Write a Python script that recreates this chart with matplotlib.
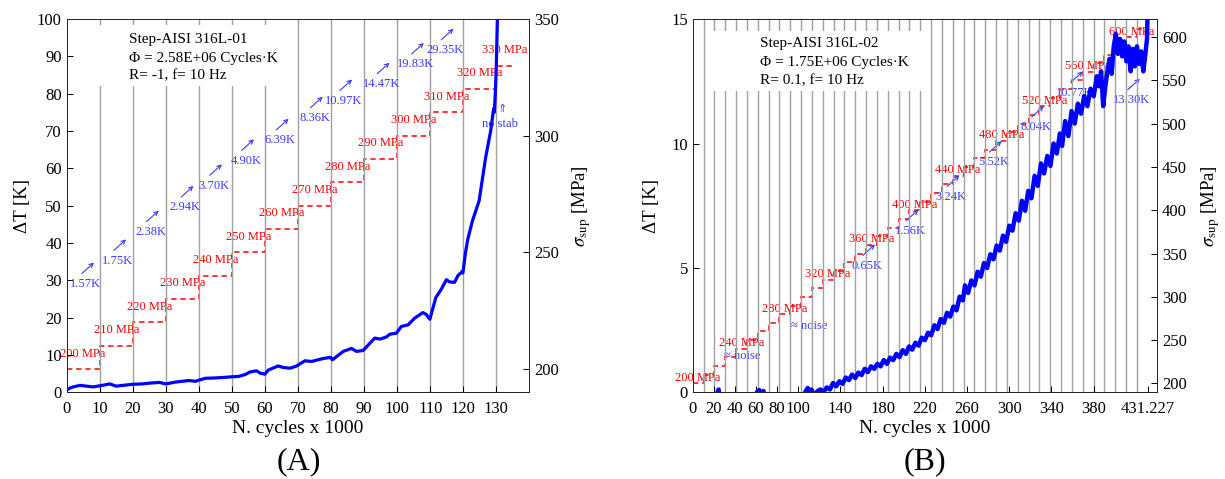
import numpy as np
import matplotlib
matplotlib.use("Agg")
import matplotlib.pyplot as plt
from matplotlib.patches import Rectangle
from matplotlib.transforms import offset_copy

plt.rcParams["font.family"] = ["Liberation Serif", "DejaVu Serif"]
plt.rcParams["mathtext.fontset"] = "stix"

#############################
# (A) Step-AISI 316L-01     #
#############################
a_cycles = [0, 1, 2, 4, 6, 8, 10, 12, 13, 15, 17, 20, 23, 25, 28, 30, 33, 35,
            37, 39, 40, 42, 45, 47, 50, 52, 54, 55.5, 57.5, 58.5, 60, 61, 64,
            65.5, 67.6, 69.6, 72.1, 74.1, 77.6, 79.9, 80.4, 83.7, 86.2, 87.7,
            89.7, 93.2, 94.9, 96.8, 97.8, 99.8, 101.3, 103.3, 105.3, 107.8,
            108.8, 109.9, 111.7, 113.4, 114.9, 115.9, 117.4, 118.4, 119.6,
            119.9, 120.7, 121.4, 122.8, 124.8, 126.8, 128.3, 129.2, 129.4,
            129.7, 130.0, 130.4]
a_dT = [0.6, 1.2, 1.5, 1.9, 1.7, 1.5, 1.8, 2.1, 2.3, 1.7, 1.9, 2.2, 2.3, 2.5,
        2.7, 2.3, 2.8, 3.0, 3.2, 3.0, 3.3, 3.8, 3.9, 4.0, 4.2, 4.3, 4.8, 5.5,
        5.8, 5.2, 4.9, 6.0, 7.1, 6.7, 6.5, 7.1, 8.5, 8.3, 9.1, 9.4, 8.75, 11.0,
        11.8, 11.0, 11.25, 14.55, 14.3, 14.9, 15.6, 15.9, 17.7, 18.1, 19.9,
        21.4, 20.9, 19.6, 25.4, 27.7, 30.2, 29.6, 29.5, 31.3, 32.3, 32.0, 37.5,
        41.1, 46.0, 51.3, 63.0, 70.0, 76.0, 75.0, 80.0, 87.0, 102.0]
a_edges = [0, 10, 20, 30, 40, 50, 60, 70, 80, 90, 100, 110, 120, 130, 135]
a_stress = [200, 210, 220, 230, 240, 250, 260, 270, 280, 290, 300, 310, 320, 330]
a_stab = ["1.57K", "1.75K", "2.38K", "2.94K", "3.70K", "4.90K", "6.39K",
          "8.36K", "10.97K", "14.47K", "19.83K", "29.35K"]
a_stab_pos = [(5.8, 29.1), (15.5, 35.3), (25.4, 43.0), (35.9, 49.6),
              (44.5, 55.4), (54.2, 62.1), (64.7, 67.6), (75.0, 73.5),
              (83.9, 78.1), (95.2, 82.6), (105.6, 87.9), (114.6, 91.7)]
a_info = ["Step-AISI 316L-01", "Φ = 2.58E+06 Cycles·K", "R= -1, f= 10 Hz"]

#############################
# (B) Step-AISI 316L-02     #
#############################
b_cycles = [0, 20, 23, 24.5, 26, 58, 61, 63, 65, 67, 69, 104, 107, 109, 111,
            112.5, 115, 118, 121, 124, 127, 130, 133, 136, 139, 142, 145, 148,
            151, 154, 157, 160, 163, 166, 169, 172, 175, 178, 181, 184, 187,
            190, 193, 196, 199, 202, 205, 208, 211, 214, 217, 220, 223, 226,
            229, 232, 235, 238, 241, 244, 247, 250, 253, 256, 258, 261, 264,
            267, 270, 273, 276, 279, 282, 285, 288, 291, 294, 297, 300, 303,
            306, 309, 312, 315, 318, 321, 324, 327, 330, 333, 336, 339, 342,
            345, 348, 350, 353, 356, 359, 362, 365, 368, 371, 374, 377, 380,
            383, 385, 387, 389, 391, 393, 395, 397, 399, 401, 403, 405, 407,
            409, 411, 413, 415, 417, 419, 421, 423, 425, 427, 429, 430.5,
            431.227]
b_dT = [-0.3, -0.3, -0.05, 0.12, -0.3, -0.3, 0.02, 0.1, -0.1, 0.06, -0.3,
        -0.3, 0.05, 0.18, 0.0, 0.12, -0.15, 0.05, 0.12, 0.02, 0.2, 0.12, 0.38,
        0.25, 0.45, 0.35, 0.6, 0.5, 0.72, 0.58, 0.8, 0.7, 0.95, 0.82, 1.05,
        0.95, 1.15, 1.05, 1.3, 1.15, 1.4, 1.3, 1.55, 1.42, 1.7, 1.55, 1.85,
        1.72, 2.0, 1.88, 2.2, 2.1, 2.4, 2.3, 2.7, 2.55, 2.95, 2.8, 3.2, 3.05,
        3.45, 3.3, 3.85, 3.7, 4.3, 4.0, 4.5, 4.3, 4.85, 4.65, 5.2, 5.0, 5.55,
        5.35, 5.9, 5.7, 6.3, 6.05, 6.7, 6.5, 7.2, 6.9, 7.7, 7.3, 8.1, 7.8, 8.7,
        8.3, 9.2, 8.8, 9.5, 9.1, 10.0, 9.6, 10.4, 9.9, 10.9, 10.3, 11.3, 10.8,
        11.6, 11.2, 11.9, 11.5, 12.2, 11.9, 12.7, 12.3, 12.9, 11.5, 12.3, 12.9,
        13.4, 12.8, 13.9, 14.4, 13.6, 14.2, 13.5, 14.1, 13.3, 13.9, 12.9, 13.8,
        13.1, 13.9, 13.2, 13.7, 12.9, 13.6, 14.2, 15.5]
b_edges = [0, 10.27, 20.53, 30.80, 41.07, 51.34, 61.60, 71.87, 82.14, 92.41,
           102.67, 112.94, 123.21, 133.47, 143.74, 154.01, 164.28, 174.54,
           184.81, 195.08, 205.35, 215.61, 225.88, 236.15, 246.42, 256.68,
           266.95, 277.22, 287.48, 297.75, 308.02, 318.29, 328.55, 338.82,
           349.09, 359.36, 369.62, 379.89, 390.16, 400.42, 410.69, 420.96,
           431.227]
b_stress = [200, 210, 220, 230, 240, 250, 260, 270, 280, 290, 300, 310, 320,
            330, 340, 350, 360, 370, 380, 390, 400, 410, 420, 430, 440, 450,
            460, 470, 480, 490, 500, 510, 520, 530, 540, 550, 560, 570, 580,
            590, 600, 610]
b_stab = ["≈ noise", "≈ noise", "0.65K", "1.56K", "3.24K", "5.52K", "8.04K",
          "10.77K", "13.30K"]
b_stab_pos = [(46.5, 231.7), (110, 266.7), (165, 336), (206, 376),
              (245, 415.7), (285, 455.4), (325, 495.9), (362, 535.9),
              (416, 527.4)]
b_has_arrow = [False, False, True, True, True, True, True, True, True]
b_xticks = [0, 20, 40, 60, 80, 100, 140, 180, 220, 260, 300, 340, 380, 431.227]
b_xticklabels = ["0", "20", "40", "60", "80", "100", "140", "180", "220",
                 "260", "300", "340", "380", "431.227"]
b_info = ["Step-AISI 316L-02", "Φ = 1.75E+06 Cycles·K", "R= 0.1, f= 10 Hz"]

RED = "#ff0000"
BLUE = "#0000ff"
LBLUE = "#3a3aff"
GRID = "#a0a0a0"

fig = plt.figure(figsize=(12.25, 4.79), dpi=100)


def arrow_for(ax, x, y):
    # small diagonal arrow sitting up-right of a label
    tail = offset_copy(ax.transData, fig=fig, x=-2.9, y=7.4, units="points")
    head = offset_copy(ax.transData, fig=fig, x=5.9, y=15.3, units="points")
    ax.annotate("", xy=(x, y), xycoords=head, xytext=(x, y), textcoords=tail,
                arrowprops=dict(arrowstyle="->", color=LBLUE, lw=0.8,
                                shrinkA=0, shrinkB=0, mutation_scale=7))


def setup(rect, xlim, ylim, ylim2, cycles, dT, edges, stress, lw):
    ax = fig.add_axes(rect)
    ax2 = ax.twinx()
    ax.set_zorder(ax2.get_zorder() + 1)
    ax.patch.set_visible(False)

    ax.set_xlim(*xlim)
    ax.set_ylim(*ylim)
    ax2.set_ylim(*ylim2)

    for xe in edges[1:-1]:
        ax.axvline(xe, color=GRID, lw=1.0, zorder=1)

    ax2.stairs(stress, edges, baseline=None, color=RED, lw=1.1,
               linestyle=(0, (3.5, 2.5)))
    ax.plot(cycles, dT, color=BLUE, lw=lw, zorder=3, solid_joinstyle="round")

    for a in (ax, ax2):
        a.tick_params(direction="in", length=4, labelsize=12, width=0.7)
        for s in a.spines.values():
            s.set_linewidth(0.7)
            s.set_color("#262626")
    ax.tick_params(axis="x", pad=6)
    ax.set_xlabel("N. cycles x 1000", fontsize=14, labelpad=2)
    ax.set_ylabel("ΔT [K]", fontsize=13.5)
    ax2.set_ylabel(r"$\sigma_{\mathrm{sup}}$ [MPa]", fontsize=13.5)
    return ax, ax2


def info_box(ax, box, x0, ys, lines):
    ax.add_patch(Rectangle(box[:2], box[2], box[3], facecolor="white",
                           edgecolor="none", zorder=2))
    for y, s in zip(ys, lines):
        ax.text(x0, y, s, fontsize=11, va="center", ha="left", zorder=4)


# ---------------- panel A ----------------
axA, axA2 = setup([0.0544, 0.1806, 0.3777, 0.7797], (0, 140), (0, 100),
                  (190, 350), a_cycles, a_dT, a_edges, a_stress, 2.3)
axA.set_xticks(np.arange(0, 131, 10))
axA.set_yticks(np.arange(0, 101, 10))
axA2.set_yticks([200, 250, 300, 350])
axA.yaxis.labelpad = 4
axA2.yaxis.labelpad = 8

for i, s in enumerate(a_stress):
    xm = (a_edges[i] + a_edges[i + 1]) / 2
    axA2.text(xm, s + 6.7, f"{s} MPa", color=RED, fontsize=9,
              ha="center", va="center")

for lab, (x, y) in zip(a_stab, a_stab_pos):
    axA.text(x, y, lab, color=LBLUE, fontsize=9, ha="center", va="center",
             zorder=4)
    arrow_for(axA, x, y)
axA.text(131.2, 71.9, "no stab", color=LBLUE, fontsize=9, ha="center",
         va="center", zorder=4)
axA.text(131.8, 76.0, "⇑", color=LBLUE, fontsize=8, ha="center",
         va="center", zorder=4, family=["DejaVu Sans"])

info_box(axA, (3, 82, 63, 16.4), 19, [94.4, 89.5, 84.8], a_info)

# ---------------- panel B ----------------
axB, axB2 = setup([0.5655, 0.1806, 0.3790, 0.7797], (0, 440), (0, 15),
                  (189.5, 621), b_cycles, b_dT, b_edges, b_stress, 3.2)
axB.set_xticks(b_xticks)
axB.set_xticklabels(b_xticklabels)
axB.set_yticks([0, 5, 10, 15])
axB2.set_yticks([200, 250, 300, 350, 400, 450, 500, 550, 600])
axB.yaxis.labelpad = 8
axB2.yaxis.labelpad = 9

for i in range(0, len(b_stress), 4):
    xm = (b_edges[i] + b_edges[i + 1]) / 2
    axB2.text(xm, b_stress[i] + 6.5, f"{b_stress[i]} MPa", color=RED,
              fontsize=9, ha="center", va="center")

for lab, (x, y), arr in zip(b_stab, b_stab_pos, b_has_arrow):
    axB2.text(x, y, lab, color=LBLUE, fontsize=9, ha="center", va="center")
    if arr:
        arrow_for(axB2, x, y)

info_box(axB, (15, 12.1, 206, 2.4), 63.8, [14.0, 13.27, 12.53], b_info)

fig.text(0.2443, 0.037, "(A)", fontsize=23, ha="center", va="center")
fig.text(0.7550, 0.037, "(B)", fontsize=23, ha="center", va="center")

fig.savefig("out.png", dpi=100)
